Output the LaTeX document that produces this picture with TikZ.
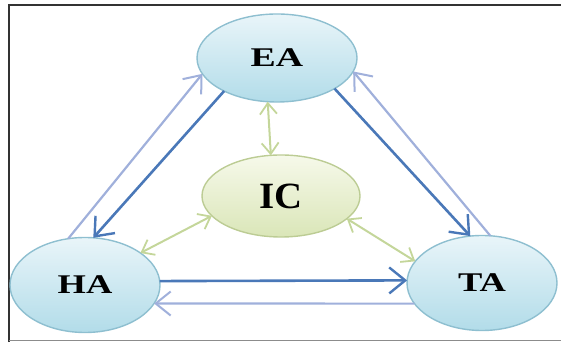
\documentclass[tikz,border=0pt]{standalone}
\usepackage{fontspec}
\usepackage{graphicx}
\setmainfont{Liberation Serif}
\usetikzlibrary{shapes.geometric,arrows.meta}

\definecolor{agentTop}{HTML}{E9F5F9}
\definecolor{agentBottom}{HTML}{B2DCE9}
\definecolor{agentEdge}{HTML}{8EBFD0}
\definecolor{coreTop}{HTML}{F6F9EA}
\definecolor{coreBottom}{HTML}{DAE6B8}
\definecolor{coreEdge}{HTML}{BCCC94}
\definecolor{flowDark}{HTML}{4A78B8}
\definecolor{flowLight}{HTML}{A0B0DB}
\definecolor{flowGreen}{HTML}{C4D69A}
\definecolor{frameLine}{HTML}{333333}

\tikzset{
  agent/.style={ellipse, draw=agentEdge, line width=1.4pt,
    top color=agentTop, bottom color=agentBottom,
    minimum width=150pt, minimum height=95pt, inner sep=0pt, outer sep=0pt,
    font=\bfseries\fontsize{27}{27}\selectfont},
  core/.style={ellipse, draw=coreEdge, line width=1.4pt,
    top color=coreTop, bottom color=coreBottom,
    minimum width=158pt, minimum height=82pt, inner sep=0pt, outer sep=0pt,
    font=\bfseries\fontsize{37}{37}\selectfont},
  strongflow/.style={draw=flowDark, line width=2.6pt,
    -{Straight Barb[length=16pt,width=26pt,line width=2.4pt]}},
  weakflow/.style={draw=flowLight, line width=2.2pt,
    -{Straight Barb[length=15pt,width=24pt,line width=2pt]}},
  linkflow/.style={draw=flowGreen, line width=2pt,
    {Straight Barb[length=11pt,width=17pt,line width=1.8pt]}-{Straight Barb[length=11pt,width=17pt,line width=1.8pt]}},
  frameedge/.style={draw=frameLine, line width=1.8pt}
}

\begin{document}
\begin{tikzpicture}[x=1pt,y=1pt]
  \useasboundingbox (0,0) rectangle (561,342);

  % frame
  \coordinate (fBL) at (9,0);
  \coordinate (fTL) at (9,337);
  \coordinate (fTR) at (561,337);
  \coordinate (fBR) at (561,1.5);
  \draw[frameedge] (fBL) -- (fTL) -- (fTR);
  \draw[draw=black!45, line width=1.5pt] (9,1.5) -- (fBR);

  % nodes
  \node[agent, minimum width=160pt, minimum height=88pt] (EA) at (277,284) {\scalebox{1.4}[1]{EA}};
  \node[core] (IC) at (281,146) {\scalebox{1.05}[1]{IC}};
  \node[agent] (HA) at (85,57) {\scalebox{1.35}[1]{HA}};
  \node[agent] (TA) at (482,59) {\scalebox{1.35}[1]{TA}};

  % flows between the agents
  \draw[weakflow] (HA.110) -- (EA.192);
  \draw[strongflow] (EA.212) -- (HA.80);
  \draw[strongflow] (EA.332) -- (TA.104);
  \draw[weakflow] (TA.80) -- (EA.350);
  \draw[strongflow] (HA.3) -- (TA.178);
  \draw[weakflow] (TA.197) -- (HA.345);

  % links to the core
  \draw[linkflow] (EA.258) -- (IC.104);
  \draw[linkflow] (HA.30) -- (IC.196);
  \draw[linkflow] (IC.341) -- (TA.162);
\end{tikzpicture}
\end{document}
